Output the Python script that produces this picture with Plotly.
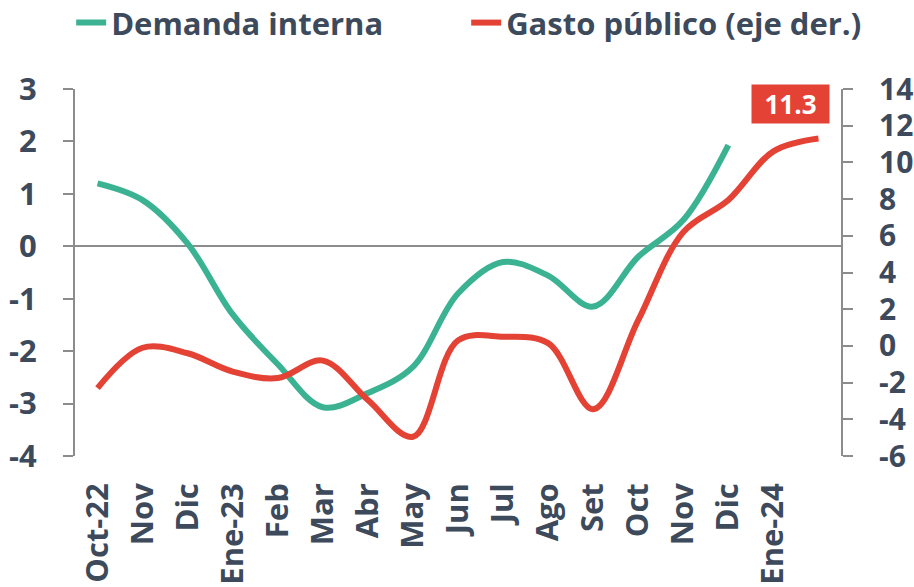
import plotly.graph_objects as go

tick_labels = ["Oct-22", "Nov", "Dic", "Ene-23", "Feb", "Mar", "Abr", "May", "Jun",
               "Jul", "Ago", "Set", "Oct", "Nov", "Dic", "Ene-24", ""]
x_idx = list(range(len(tick_labels)))

left_ticks = [-4, -3, -2, -1, 0, 1, 2, 3]
right_ticks = [-6, -4, -2, 0, 2, 4, 6, 8, 10, 12, 14]

demanda_interna = [1.2, 0.88, 0.05, -1.3, -2.25, -3.07, -2.8, -2.3, -0.9,
                   -0.3, -0.56, -1.15, -0.2, 0.5, 1.93]
gasto_publico = [-2.3, -0.1, -0.4, -1.4, -1.75, -0.8, -2.95, -4.95, 0.3,
                 0.5, 0.15, -3.45, 1.4, 6.2, 7.95, 10.6, 11.3]

GREEN = "#3bb393"
RED = "#e34234"
TXT = "#3d4a5c"
AX = "#8c8c8c"
FONT = "Open Sans"

fig = go.Figure()
fig.add_trace(go.Scatter(
    x=x_idx[:len(demanda_interna)], y=demanda_interna, name="Demanda interna",
    mode="lines", line=dict(color=GREEN, width=6, shape="spline", smoothing=1.0),
    yaxis="y"))
fig.add_trace(go.Scatter(
    x=x_idx[:len(gasto_publico)], y=gasto_publico, name="Gasto público (eje der.)",
    mode="lines", line=dict(color=RED, width=6, shape="spline", smoothing=1.0),
    yaxis="y2"))

fig.add_annotation(
    x=x_idx[len(gasto_publico) - 1], y=gasto_publico[-1], xref="x", yref="y2",
    text=f"{gasto_publico[-1]:.1f}", showarrow=False,
    xshift=-28, yshift=35, width=75, height=36,
    bgcolor=RED, font=dict(family=FONT, size=26, color="white", weight="bold"))

tickfont = dict(family=FONT, size=31, color=TXT, weight="bold")
tickfont_r = dict(family=FONT, size=30, color=TXT, weight="bold")

fig.update_layout(
    width=914, height=587,
    margin=dict(l=75, r=73, t=89, b=131, pad=0, autoexpand=False),
    paper_bgcolor="white", plot_bgcolor="white",
    font=dict(family=FONT, size=31, color=TXT, weight="bold"),
    showlegend=True,
    legend=dict(orientation="h", x=-0.005, xanchor="left", y=1.18, yanchor="middle",
                font=dict(family=FONT, size=31, color=TXT, weight="bold"),
                entrywidth=350, entrywidthmode="pixels",
                bgcolor="rgba(0,0,0,0)", itemclick=False),
    xaxis=dict(
        range=[-0.5, len(tick_labels) - 0.5], automargin=False,
        tickvals=x_idx, ticktext=tick_labels, tickangle=-90,
        showgrid=False, zeroline=False, showline=False, ticks="",
        tickfont=tickfont, ticklabelstandoff=20),
    yaxis=dict(
        range=[-4, 3], automargin=False,
        tickvals=left_ticks, ticktext=[str(v) for v in left_ticks],
        showgrid=False, zeroline=True, zerolinecolor=AX, zerolinewidth=2,
        showline=True, linecolor=AX, linewidth=2,
        ticks="outside", ticklen=10, tickwidth=2, tickcolor=AX,
        tickfont=tickfont, ticklabelstandoff=20),
    yaxis2=dict(
        range=[-6, 14], overlaying="y", side="right", automargin=False,
        tickvals=right_ticks, ticktext=[str(v) for v in right_ticks],
        showgrid=False, zeroline=False,
        showline=True, linecolor=AX, linewidth=2,
        ticks="outside", ticklen=10, tickwidth=2, tickcolor=AX,
        tickfont=tickfont_r, ticklabelstandoff=20),
)

fig.write_html("out.html", config={"displayModeBar": False},
               post_script="document.body.style.margin='0';document.body.style.overflow='hidden';")
